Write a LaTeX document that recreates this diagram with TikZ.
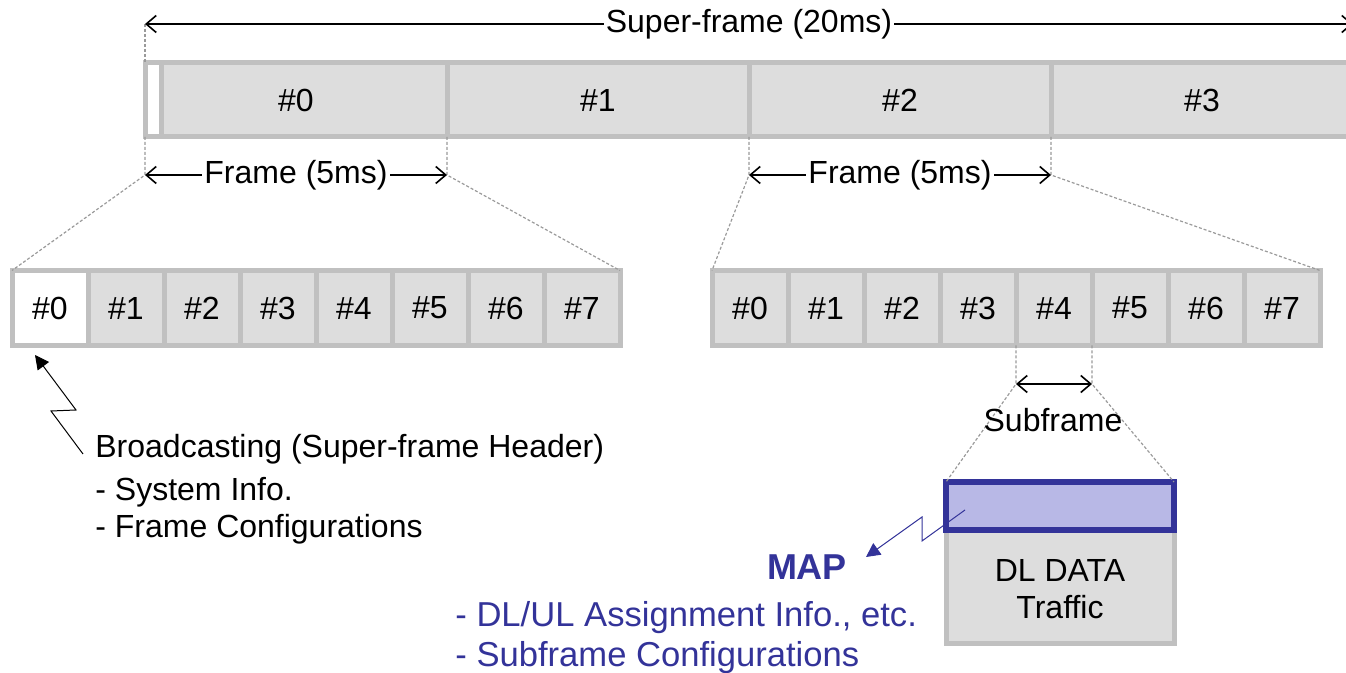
\documentclass[tikz,border=0pt]{standalone}
\usepackage{fontspec}
\setmainfont{Liberation Sans}
\usepackage{tikz}
\usetikzlibrary{positioning}
\usetikzlibrary{arrows.meta}

\definecolor{cellgray}{HTML}{DDDDDD}
\definecolor{edgegray}{HTML}{C0C0C0}
\definecolor{mapblue}{HTML}{333399}
\definecolor{maplight}{HTML}{B8B8E6}
\definecolor{guidegray}{HTML}{9A9A9A}

\begin{document}
\begin{tikzpicture}[x=0.5pt, y=0.5pt,
        frmbox/.style={rectangle, draw=edgegray, fill=cellgray, line width=2.5pt, outer sep=0pt, minimum width=151pt, minimum height=37pt, font=\fontsize{16}{19}\selectfont},
        hdrbox/.style={rectangle, draw=edgegray, fill=white, line width=2.5pt, outer sep=0pt, inner sep=0pt, minimum width=8.25pt, minimum height=37pt},
        subbox/.style={rectangle, draw=edgegray, fill=cellgray, line width=2.5pt, outer sep=0pt, minimum width=38pt, minimum height=37.5pt, font=\fontsize{16}{19}\selectfont},
        databox/.style={rectangle, draw=edgegray, fill=cellgray, line width=2.5pt, outer sep=0pt, minimum width=114pt, minimum height=57pt, align=center, font=\fontsize{16}{18.5}\selectfont},
        mapbox/.style={rectangle, draw=mapblue, fill=maplight, line width=3pt, outer sep=0pt, minimum width=114pt, minimum height=24pt},
        guide/.style={draw=guidegray, line width=0.6pt, dash pattern=on 1.5pt off 1pt},
        span/.style={draw=black, line width=0.8pt, {Straight Barb[length=5pt, width=8.5pt]}-{Straight Barb[length=5pt, width=8.5pt]}},
        spanlabel/.style={fill=white, inner sep=1pt, font=\fontsize{16}{19}\selectfont},
        bolt/.style={draw=black, line width=0.5pt, -{Triangle[length=7pt, width=7pt]}},
        txtblock/.style={inner sep=0pt, anchor=north west, align=left}
      ]
        \useasboundingbox (0,0) rectangle (1346,-673);
        \clip (0,0) rectangle (1346,-673);

        % super-frame made of four frames
        \node[frmbox]  (frm0)  at (296,-100)         {\#0};
        \node[frmbox]  (frm1)  [right=0pt of frm0]   {\#1};
        \node[frmbox]  (frm2)  [right=0pt of frm1]   {\#2};
        \node[frmbox]  (frm3)  [right=0pt of frm2]   {\#3};
        \node[hdrbox, anchor=west] (hdr) at (frm0.west) {};

        % subframes of frame #0
        \node[subbox, fill=white] (lc0) at (50,-308)  {\#0};
        \node[subbox]  (lc1)  [right=0pt of lc0]  {\#1};
        \node[subbox]  (lc2)  [right=0pt of lc1]  {\#2};
        \node[subbox]  (lc3)  [right=0pt of lc2]  {\#3};
        \node[subbox]  (lc4)  [right=0pt of lc3]  {\#4};
        \node[subbox]  (lc5)  [right=0pt of lc4]  {\#5};
        \node[subbox]  (lc6)  [right=0pt of lc5]  {\#6};
        \node[subbox]  (lc7)  [right=0pt of lc6]  {\#7};

        % subframes of frame #2
        \node[subbox]  (rc0)  at (750,-308)       {\#0};
        \node[subbox]  (rc1)  [right=0pt of rc0]  {\#1};
        \node[subbox]  (rc2)  [right=0pt of rc1]  {\#2};
        \node[subbox]  (rc3)  [right=0pt of rc2]  {\#3};
        \node[subbox]  (rc4)  [right=0pt of rc3]  {\#4};
        \node[subbox]  (rc5)  [right=0pt of rc4]  {\#5};
        \node[subbox]  (rc6)  [right=0pt of rc5]  {\#6};
        \node[subbox]  (rc7)  [right=0pt of rc6]  {\#7};

        % one subframe: MAP on top of the data
        \node[databox] (data)  at (1060,-587)        {\rule{0pt}{13pt}DL DATA\\Traffic};
        \node[mapbox]  (map)   [above=0pt of data]   {};

        % dimension lines
        \path (frm0.north west) ++(0,39) coordinate (sfl);
        \path (frm3.north east) ++(0,39) coordinate (sfr);
        \path (frm0.south west) ++(0,-38) coordinate (fa0l);
        \path (frm0.south east) ++(0,-38) coordinate (fa0r);
        \path (frm2.south west) ++(0,-38) coordinate (fa2l);
        \path (frm2.south east) ++(0,-38) coordinate (fa2r);
        \path (rc4.south west) ++(0,-38.5) coordinate (sbl);
        \path (rc4.south east) ++(0,-38.5) coordinate (sbr);

        \draw[guide] (sfl) -- (frm0.north west);
        \draw[guide] (sfr) -- (frm3.north east);
        \draw[guide] (frm0.south west) -- (fa0l) -- (lc0.north west);
        \draw[guide] (frm0.south east) -- (fa0r) -- (lc7.north east);
        \draw[guide] (frm2.south west) -- (fa2l) -- (rc0.north west);
        \draw[guide] (frm2.south east) -- (fa2r) -- (rc7.north east);
        \draw[guide] (rc4.south west) -- (sbl) -- (map.north west);
        \draw[guide] (rc4.south east) -- (sbr) -- (map.north east);

        \draw[span] (sfl)  -- node[spanlabel] {Super-frame (20ms)} (sfr);
        \draw[span] (fa0l) -- node[spanlabel] {Frame (5ms)} (fa0r);
        \draw[span] (fa2l) -- node[spanlabel] {Frame (5ms)} (fa2r);
        \draw[span] (sbl)  -- (sbr);
        \node[font=\fontsize{16}{19}\selectfont, anchor=base] (sublbl) at (1053,-432) {Subframe};

        % broadcasting note
        \node[txtblock, font=\fontsize{16}{18.5}\selectfont] (bcnote) at (95,-434)
          {Broadcasting (Super-frame Header)\\[3pt] - System Info.\\ - Frame Configurations};
        \coordinate (bcfoot) at (83,-454);
        \coordinate (bctip)  at (35,-355);
        \draw[bolt] (bcfoot) -- (51,-411) -- (76,-410) -- (bctip);

        % MAP note
        \node[text=mapblue, font=\fontsize{18}{21}\selectfont\bfseries, anchor=base] (maplbl) at (807,-580) {MAP};
        \node[txtblock, text=mapblue, font=\fontsize{17.3}{20}\selectfont] (mapnote) at (455,-601.5)
          {- DL/UL Assignment Info., etc.\\ - Subframe Configurations};
        \coordinate (mapsrc) at (965,-510);
        \coordinate (maptip) at (866,-557);
        \draw[bolt, draw=mapblue] (mapsrc) -- (922,-541) -- (922,-517) -- (maptip);
      \end{tikzpicture}
\end{document}
